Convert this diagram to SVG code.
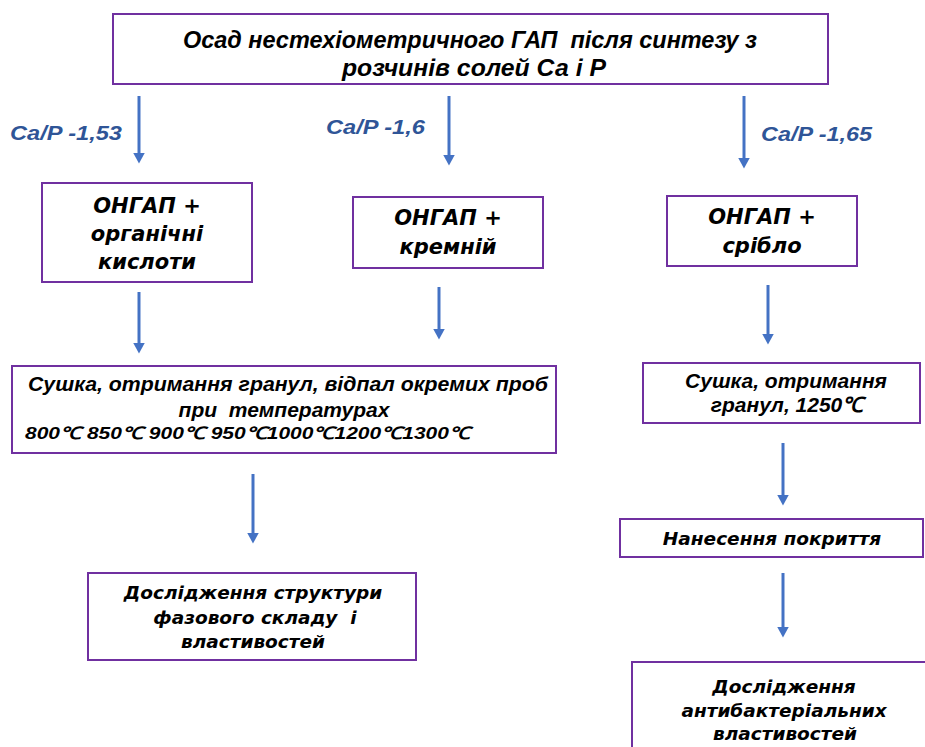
<svg xmlns="http://www.w3.org/2000/svg" width="925" height="747" viewBox="0 0 925 747">
<style>
text{white-space:pre}
.box{fill:#fff;stroke:#7030A0;stroke-width:2}
.v{font-family:"DejaVu Sans",Verdana,sans-serif;font-weight:bold;font-style:italic;font-size:18.5px;fill:#000;text-anchor:middle}
.o{font-size:21px}
.a{font-family:"Liberation Sans",Arial,sans-serif;font-weight:bold;font-style:italic;fill:#000;text-anchor:middle}
.n{font-family:"Liberation Sans",Arial,sans-serif;font-weight:bold;font-style:italic;font-size:24px;fill:#000}
.lbl{font-family:"Liberation Sans",Arial,sans-serif;font-weight:bold;font-style:italic;font-size:20px;fill:#2F5597}
.arr{stroke:#4472C4;stroke-width:3;fill:none;marker-end:url(#ah)}
</style>
<defs>
<marker id="ah" viewBox="0 0 11 12" markerWidth="11" markerHeight="12" markerUnits="userSpaceOnUse" refX="0.5" refY="6" orient="auto">
<path d="M0,0 L11,6 L0,12 Z" fill="#4472C4"/>
</marker>
</defs>
<rect width="925" height="747" fill="#fff"/>

<g id="connectors">
<line class="arr" x1="139" y1="96" x2="139" y2="153"/>
<line class="arr" x1="449" y1="96" x2="449" y2="155"/>
<line class="arr" x1="744" y1="96" x2="744" y2="158"/>
<line class="arr" x1="139" y1="292" x2="139" y2="343"/>
<line class="arr" x1="439" y1="287" x2="439" y2="329"/>
<line class="arr" x1="768" y1="285" x2="768" y2="334"/>
<line class="arr" x1="253" y1="474" x2="253" y2="533"/>
<line class="arr" x1="783" y1="443" x2="783" y2="495"/>
<line class="arr" x1="783" y1="573" x2="783" y2="627"/>
</g>

<g id="labels">
<text class="lbl" x="10" y="140" textLength="112" lengthAdjust="spacingAndGlyphs">Ca/P -1,53</text>
<text class="lbl" x="326" y="134" textLength="99" lengthAdjust="spacingAndGlyphs">Ca/P -1,6</text>
<text class="lbl" x="761" y="141" textLength="111" lengthAdjust="spacingAndGlyphs">Ca/P -1,65</text>
</g>

<g id="top">
<rect class="box" x="113" y="14" width="715" height="70"/>
<text class="n" x="183" y="48" textLength="574" lengthAdjust="spacingAndGlyphs">Осад нестехіометричного ГАП  після синтезу з</text>
<text class="n" x="342" y="76" textLength="264" lengthAdjust="spacingAndGlyphs">розчинів солей Са і Р</text>
</g>

<g id="ongap-org">
<rect class="box" x="42" y="183" width="210" height="99"/>
<text class="v o" x="147" y="213">ОНГАП +</text>
<text class="v o" x="147" y="241">органічні</text>
<text class="v o" x="147" y="269">кислоти</text>
</g>

<g id="ongap-si">
<rect class="box" x="353" y="197" width="190" height="71"/>
<text class="v o" x="448" y="225">ОНГАП +</text>
<text class="v o" x="448" y="254">кремній</text>
</g>

<g id="ongap-ag">
<rect class="box" x="667" y="196" width="190" height="70"/>
<text class="v o" x="762" y="224">ОНГАП +</text>
<text class="v o" x="762" y="253">срібло</text>
</g>

<g id="drying-left">
<rect class="box" x="12" y="366" width="544" height="87"/>
<text class="a" x="288" y="391" font-size="21" textLength="520" lengthAdjust="spacingAndGlyphs">Сушка, отримання гранул, відпал окремих проб</text>
<text class="a" x="284" y="417" font-size="21">при  температурах</text>
<text class="a" x="25" y="439" font-size="17" style="text-anchor:start" textLength="445" lengthAdjust="spacingAndGlyphs">800℃ 850℃ 900℃ 950℃1000℃1200℃1300℃</text>
</g>

<g id="drying-right">
<rect class="box" x="643" y="363" width="277" height="60"/>
<text class="a" x="786" y="388" font-size="21">Сушка, отримання</text>
<text class="a" x="787" y="412" font-size="21">гранул, 1250℃</text>
</g>

<g id="coating">
<rect class="box" x="620" y="519" width="303" height="38"/>
<text class="v" x="772" y="545">Нанесення покриття</text>
</g>

<g id="study-structure">
<rect class="box" x="88" y="573" width="328" height="87"/>
<text class="v" x="253" y="599">Дослідження структури</text>
<text class="v" x="255" y="624">фазового складу  і</text>
<text class="v" x="253" y="648">властивостей</text>
</g>

<g id="study-antibacterial">
<rect class="box" x="632" y="662" width="300" height="92"/>
<text class="v" x="784" y="693">Дослідження</text>
<text class="v" x="784" y="717">антибактеріальних</text>
<text class="v" x="785" y="740">властивостей</text>
</g>
</svg>
